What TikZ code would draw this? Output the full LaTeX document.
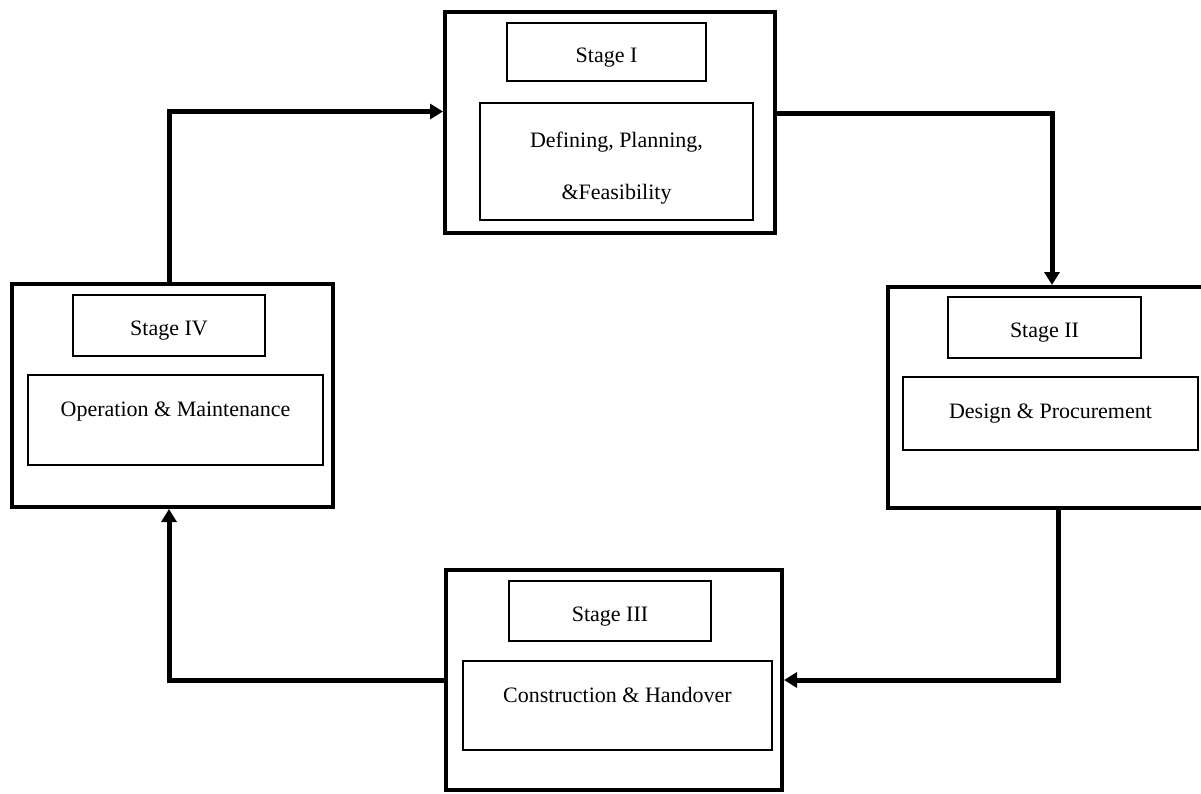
\documentclass[tikz,border=0pt]{standalone}
\usepackage{fontspec}
\setmainfont{Liberation Serif}
\usetikzlibrary{arrows.meta}
\tikzset{
  x=1pt, y=1pt,
  outerbox/.style={draw, line width=4pt, minimum width=#1, inner sep=0pt},
  titlebox/.style={draw, line width=1.8pt, inner sep=0pt, text height=25pt, font=\fontsize{22}{26}\selectfont},
  contentbox/.style={draw, line width=1.8pt, inner sep=0pt, align=center, font=\fontsize{22}{26}\selectfont},
  arr/.style={line width=5pt, -{Triangle[length=13pt,width=15pt]}}
}
\begin{document}
\begin{tikzpicture}
\useasboundingbox (0,0) rectangle (1201,-793);
\clip (0,0) rectangle (1201,-793);
% outer stage boxes
\node[outerbox=330pt, minimum height=221pt] (s1) at (610,-122.5) {};
\node[outerbox=316pt, minimum height=221pt] (s2) at (1046,-397.5) {};
\node[outerbox=336pt, minimum height=220pt] (s3) at (614,-680) {};
\node[outerbox=321pt, minimum height=223pt] (s4) at (172.5,-395.5) {};
% title boxes
\node[titlebox, minimum width=199pt, minimum height=58pt] (t1) at (606.5,-52) {Stage I};
\node[titlebox, minimum width=193pt, minimum height=61pt] (t2) at (1044.5,-327.5) {Stage II};
\node[titlebox, minimum width=202pt, minimum height=60pt] (t3) at (610,-611) {Stage III};
\node[titlebox, minimum width=192pt, minimum height=61pt] (t4) at (169,-325.5) {Stage IV};
% content boxes
\node[contentbox, minimum width=273pt, minimum height=117pt, text height=81pt] (c1) at (616.5,-161.5) {Defining, Planning,\\[26pt]\&Feasibility};
\node[contentbox, minimum width=295pt, minimum height=73pt] (c2) at (1050.5,-413.5) {Design \& Procurement};
\node[contentbox, minimum width=309pt, minimum height=89pt, text depth=22pt] (c3) at (617.5,-705.5) {Construction \& Handover};
\node[contentbox, minimum width=295pt, minimum height=90pt, text depth=22pt] (c4) at (175.5,-420) {Operation \& Maintenance};
% connectors
\draw[arr] ([xshift=-3.5pt]s4.north) |- ([yshift=11pt]s1.west);
\draw[arr] ([yshift=9.5pt]s1.east) -| ([xshift=6pt]s2.north);
\draw[arr] ([xshift=12pt]s2.south) |- (s3.east);
\draw[arr] (s3.west) -| ([xshift=-3.5pt]s4.south);
\end{tikzpicture}
\end{document}
